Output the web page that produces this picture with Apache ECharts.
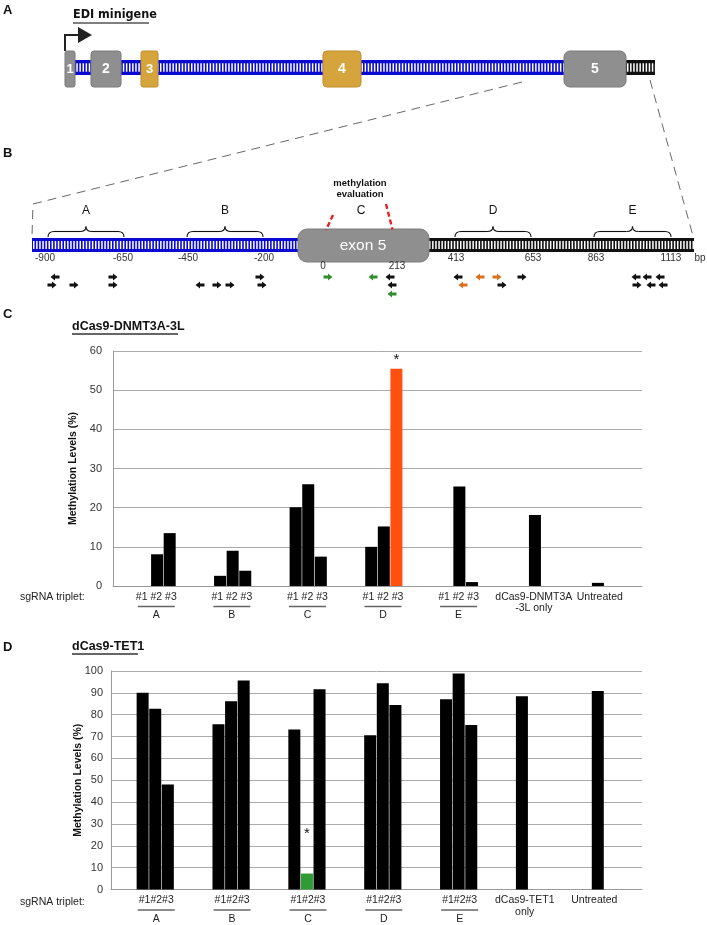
<!DOCTYPE html>
<html><head><meta charset="utf-8">
<script src="https://cdn.jsdelivr.net/npm/echarts@6/dist/echarts.min.js"></script>
<style>html,body{margin:0;padding:0;background:#fff}#c{width:707px;height:925px}</style>
</head><body><div id="c"></div>
<script>
// ---------------- data ----------------
const groupKeys = ['A', 'B', 'C', 'D', 'E', 'only', 'Untreated'];
const dnmtLabels = ['A', 'B', 'C', 'D', 'E', 'dCas9-DNMT3A\n-3L only', 'Untreated'];
const tetLabels = ['A', 'B', 'C', 'D', 'E', 'dCas9-TET1\nonly', 'Untreated'];
const tripletTextC = '#1 #2 #3';
const tripletTextD = '#1#2#3';
// dCas9-DNMT3A-3L methylation (%) per sgRNA #1, #2, #3
const dnmtSg1 = [null, 2.6, 20.1, 10.0, null, null, 0.8];
const dnmtSg2 = [8.1, 9.0, 26.0, 15.2, 25.4, 18.1, null];
const dnmtSg3 = [13.5, 3.9, 7.5, 55.5, 1.0, null, null];
// dCas9-TET1 methylation (%) per sgRNA #1, #2, #3
const tetSg1 = [90.0, 75.6, 73.2, 70.6, 87.1, 88.5, 90.8];
const tetSg2 = [82.7, 86.2, 7.3, 94.4, 98.9, null, null];
const tetSg3 = [48.0, 95.7, 91.7, 84.4, 75.3, null, null];
const dnmtAxis = { min: 0, max: 60, step: 10 };
const tetAxis = { min: 0, max: 100, step: 10 };
// significant bars (series index, group index)
const dnmtStar = { sg: 2, group: 3, color: '#ff5010' };
const tetStar = { sg: 1, group: 2, color: '#2e9b34' };

// ---------------- helpers ----------------
const FONT = "'Liberation Sans', Arial, Helvetica, sans-serif";
const NARROW = "'Liberation Sans Narrow', 'DejaVu Sans Condensed', 'Liberation Sans', sans-serif";
const G = [];
function txt(x, y, t, o) {
  o = o || {};
  G.push({ type: 'text', silent: true, style: {
    x: x, y: y, text: t, fill: o.fill || '#111',
    fontSize: o.size || 12, fontWeight: o.weight || 'normal', fontFamily: o.family || FONT,
    align: o.align || 'left', textAlign: o.align || 'left',
    verticalAlign: 'middle', textVerticalAlign: 'middle' } });
}
function seg(x1, y1, x2, y2, st) {
  G.push({ type: 'line', silent: true, shape: { x1, y1, x2, y2 }, style: Object.assign({ stroke: '#333', lineWidth: 1 }, st) });
}
function poly(points, st) {
  G.push({ type: 'polyline', silent: true, shape: { points }, style: Object.assign({ stroke: '#333', lineWidth: 1, fill: null }, st) });
}
function box(x, y, w, h, r, st) {
  G.push({ type: 'rect', silent: true, shape: { x, y, width: w, height: h, r }, style: st });
}
function band(x1, x2, y1, y2, color) {
  box(x1, y1, x2 - x1, y2 - y1, 0, { fill: color });
  const h = y2 - y1;
  seg(x1 + 1, (y1 + y2) / 2, x2, (y1 + y2) / 2, { stroke: '#fff', lineWidth: h * 0.56, lineDash: [1.5, 1.6] });
}
function curve(x1, y1, cx, cy, x2, y2) {
  G.push({ type: 'bezierCurve', silent: true, shape: { x1, y1, x2, y2, cpx1: cx, cpy1: cy }, style: { stroke: '#111', lineWidth: 1.1, fill: null } });
}
function brace(xa, xb, label) {
  const y0 = 237, ym = 231.5, yt = 226.5, xc = (xa + xb) / 2, r = 6;
  curve(xa, y0, xa, ym, xa + r, ym);
  seg(xa + r, ym, xc - r, ym, { stroke: '#111', lineWidth: 1.1 });
  curve(xc - r, ym, xc, ym, xc, yt);
  curve(xc, yt, xc, ym, xc + r, ym);
  seg(xc + r, ym, xb - r, ym, { stroke: '#111', lineWidth: 1.1 });
  curve(xb - r, ym, xb, ym, xb, y0);
  txt(xc, 211, label, { size: 12, align: 'center' });
}
function arrow(cx, cy, dir, color) {
  const p = [[-4.5, -1.6], [0, -1.6], [0, -3.6], [4.5, 0], [0, 3.6], [0, 1.6], [-4.5, 1.6]];
  G.push({ type: 'polygon', silent: true, shape: { points: p.map(q => [cx + dir * q[0], cy + q[1]]) }, style: { fill: color } });
}

// ---------------- panel A ----------------
txt(3, 10, 'A', { size: 13, weight: 'bold' });
txt(73, 15, 'EDI minigene', { size: 12.5, weight: 'bold', family: NARROW });
seg(73, 23, 149, 23, { stroke: '#555', lineWidth: 1.5 });
band(66, 566, 60, 75, '#0a0ad2');
band(626, 655, 60, 75, '#111');
const GRAY = '#8f8f8f', GOLD = '#d6a43c';
box(65, 51, 10, 36, 2, { fill: GRAY, stroke: '#7a7a7a', lineWidth: 1 });
box(91, 51, 30, 36, 3, { fill: GRAY, stroke: '#7a7a7a', lineWidth: 1 });
box(141, 51, 17, 36, 2, { fill: GOLD, stroke: '#c08d2c', lineWidth: 1 });
box(323, 51, 38, 36, 4, { fill: GOLD, stroke: '#c08d2c', lineWidth: 1 });
box(564, 51, 62, 36, 6, { fill: GRAY, stroke: '#7a7a7a', lineWidth: 1 });
txt(70, 69.5, '1', { size: 13, weight: 'bold', fill: '#fff', align: 'center' });
txt(106, 69.5, '2', { size: 14, weight: 'bold', fill: '#fff', align: 'center' });
txt(149.5, 69.5, '3', { size: 13, weight: 'bold', fill: '#fff', align: 'center' });
txt(342, 69.5, '4', { size: 14, weight: 'bold', fill: '#fff', align: 'center' });
txt(595, 69.5, '5', { size: 14, weight: 'bold', fill: '#fff', align: 'center' });
poly([[65, 51], [65, 35], [79, 35]], { stroke: '#222', lineWidth: 2 });
G.push({ type: 'polygon', silent: true, shape: { points: [[78, 27], [92, 35], [78, 43]] }, style: { fill: '#222' } });
poly([[522, 82], [33, 204], [32, 236]], { stroke: '#666', lineWidth: 1, lineDash: [9, 6] });
poly([[650, 80], [693, 236]], { stroke: '#666', lineWidth: 1, lineDash: [9, 6] });

// ---------------- panel B ----------------
txt(3, 153, 'B', { size: 13, weight: 'bold' });
band(32, 300, 238, 252, '#0a0ad2');
band(428, 694, 238, 252, '#111');
box(298, 229, 131, 33, 9, { fill: '#8f8f8f', stroke: '#7d7d7d', lineWidth: 1 });
txt(363, 245.5, 'exon 5', { size: 15.5, fill: '#fff', align: 'center' });
brace(48, 124, 'A');
brace(187, 263, 'B');
brace(455, 531, 'D');
brace(594, 671, 'E');
txt(361, 211, 'C', { size: 12, align: 'center' });
txt(360, 183, 'methylation', { size: 9.5, weight: 'bold', align: 'center' });
txt(360, 194.5, 'evaluation', { size: 9.5, weight: 'bold', align: 'center' });
seg(333, 215, 326, 230, { stroke: '#e02424', lineWidth: 2.4, lineDash: [5, 3] });
seg(386, 204, 392.5, 229.5, { stroke: '#e02424', lineWidth: 2.4, lineDash: [5, 3] });
[['-900', 45, 258], ['-650', 123, 258], ['-450', 188, 258], ['-200', 264, 258], ['0', 323, 266], ['213', 397, 266],
 ['413', 456, 258], ['653', 533, 258], ['863', 596, 258], ['1113', 671, 258], ['bp', 700, 258]].forEach(a =>
  txt(a[1], a[2], a[0], { size: 10, fill: '#333', align: 'center' }));
// sgRNA arrows
const K = '#111', GR = '#2f8f2f', OR = '#d9711e';
[[55, 277, -1, K], [113, 277, 1, K], [260, 277, 1, K], [328, 277, 1, GR],
 [52, 285, 1, K], [74, 285, 1, K], [113, 285, 1, K], [200, 285, -1, K], [217, 285, 1, K], [230, 285, 1, K], [262, 285, 1, K],
 [373, 277, -1, GR], [390, 277, -1, K], [458, 277, -1, K], [480, 277, -1, OR], [497, 277, 1, OR], [522, 277, 1, K],
 [636, 277, -1, K], [647, 277, -1, K], [660, 277, -1, K],
 [392, 285, -1, K], [463, 285, -1, OR], [502, 285, 1, K], [637, 285, 1, K], [651, 285, -1, K], [663, 285, -1, K],
 [392, 294, -1, GR]].forEach(a => arrow(a[0], a[1], a[2], a[3]));

// ---------------- panels C / D text ----------------
txt(3, 314, 'C', { size: 13, weight: 'bold' });
txt(72, 327, 'dCas9-DNMT3A-3L', { size: 12.5, weight: 'bold' });
seg(72, 334, 178, 334, { stroke: '#333', lineWidth: 1.5 });
txt(20, 597, 'sgRNA triplet:', { size: 10.5, fill: '#222' });
txt(3, 647, 'D', { size: 13, weight: 'bold' });
txt(72, 647, 'dCas9-TET1', { size: 12.5, weight: 'bold' });
seg(72, 654, 138, 654, { stroke: '#333', lineWidth: 1.5 });
txt(20, 902, 'sgRNA triplet:', { size: 10.5, fill: '#222' });

// ---------------- chart builders ----------------
function xLabel(labels, triplet, shifts) {
  const rich = {
    h: { fontSize: 10.5, lineHeight: 12, color: '#222', fontFamily: FONT },
    u: { width: 37, height: 1.3, lineHeight: 7, backgroundColor: '#666' },
    l: { fontSize: 10.5, lineHeight: 11, color: '#222', fontFamily: FONT },
    o: { fontSize: 10.5, lineHeight: 11.5, color: '#222', fontFamily: FONT }
  };
  ['g', 'o', 'n'].forEach(k => { rich['s' + k] = { width: Math.abs(2 * shifts[k]), height: 1, lineHeight: 1 }; });
  function sh(k, s) { return shifts[k] >= 0 ? '{s' + k + '|}' + s : s + '{s' + k + '|}'; }
  return {
    interval: 0, margin: 5, rich: rich,
    formatter: function (v, i) {
      const lab = labels[i];
      if (i < 5) return sh('g', '{h|' + triplet + '}') + '\n' + sh('g', '{u|}') + '\n' + sh('g', '{l|' + lab + '}');
      const k = i === 5 ? 'o' : 'n';
      return lab.split('\n').map(s => sh(k, '{o|' + s + '}')).join('\n');
    }
  };
}
function bars(ai, sgs, star, starDist) {
  const common = { type: 'bar', xAxisIndex: ai, yAxisIndex: ai, barWidth: 12, barGap: '5%', silent: true };
  const out = [Object.assign({ name: 'pad', data: sgs[0].map(() => null) }, common)];
  sgs.forEach((arr, s) => {
    out.push(Object.assign({
      name: '#' + (s + 1), itemStyle: { color: '#000' },
      data: arr.map((v, i) => (star.sg === s && star.group === i) ? {
        value: v, itemStyle: { color: star.color },
        label: { show: true, position: 'top', distance: starDist, formatter: '*', fontSize: 15, color: '#111', fontFamily: FONT }
      } : v)
    }, common));
  });
  return out;
}
function yAx(gi, ax, margin, gap) {
  return {
    gridIndex: gi, type: 'value', min: ax.min, max: ax.max, interval: ax.step,
    axisLine: { show: true, lineStyle: { color: '#9a9a9a', width: 1 } },
    axisTick: { show: false },
    splitLine: { lineStyle: { color: '#ababab', width: 1 } },
    axisLabel: { color: '#333', fontSize: 11, margin: margin, fontFamily: FONT },
    name: 'Methylation Levels (%)', nameLocation: 'middle', nameGap: gap, nameRotate: 90,
    nameMoveOverlap: false,
    nameTextStyle: { fontWeight: 'bold', fontSize: 10.5, color: '#111', fontFamily: FONT }
  };
}
function xAx(gi, labels, triplet, shifts) {
  return {
    gridIndex: gi, type: 'category', data: groupKeys,
    axisLine: { show: true, lineStyle: { color: '#9a9a9a', width: 1 } },
    axisTick: { show: false }, splitLine: { show: false },
    axisLabel: xLabel(labels, triplet, shifts)
  };
}

const chart = echarts.init(document.getElementById('c'));
chart.setOption({
  animation: false,
  textStyle: { fontFamily: FONT },
  grid: [
    { left: 113, top: 351, width: 529, height: 235 },
    { left: 111, top: 671, width: 531, height: 220 }
  ],
  xAxis: [
    xAx(0, dnmtLabels, tripletTextC, { g: 5.5, o: 5.2, n: -4.4 }),
    xAx(1, tetLabels, tripletTextD, { g: 7.3, o: -3.5, n: -9.8 })
  ],
  yAxis: [yAx(0, dnmtAxis, 11, 34), yAx(1, tetAxis, 8, 27)],
  series: bars(0, [dnmtSg1, dnmtSg2, dnmtSg3], dnmtStar, 1).concat(bars(1, [tetSg1, tetSg2, tetSg3], tetStar, 32)),
  graphic: { elements: G }
});
</script></body></html>
